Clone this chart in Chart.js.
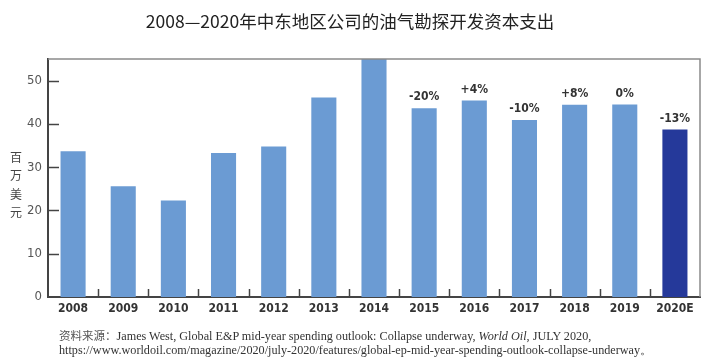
<!DOCTYPE html>
<html>
<head>
<meta charset="utf-8">
<script src="https://cdn.jsdelivr.net/npm/chart.js@4.4.0/dist/chart.umd.min.js"></script>
<style>
  html, body { margin: 0; padding: 0; background: #fff; }
  #wrap { position: relative; width: 713px; height: 360px; }
  #c { position: absolute; left: 0; top: 0; }
  #src { position: absolute; left: 59px; top: 328px; font-family: "Liberation Serif", "Times New Roman", serif; font-size: 12.2px; line-height: 14px; color: #333; white-space: nowrap; }
  #src .cn { font-family: "Noto Sans CJK SC", serif; font-size: 11.5px; color: #555; }
</style>
</head>
<body>
<div id="wrap">
  <canvas id="c" width="713" height="360"></canvas>
  <div id="src"><span class="cn">资料来源：</span>James West, Global E&amp;P mid-year spending outlook: Collapse underway, <i>World Oil</i>, JULY 2020,<br>https://www.worldoil.com/magazine/2020/july-2020/features/global-ep-mid-year-spending-outlook-collapse-underway。</div>
</div>
<script>
const titleText = "2008—2020年中东地区公司的油气勘探开发资本支出";
const yAxisTitle = "百万美元";
const years = ["2008","2009","2010","2011","2012","2013","2014","2015","2016","2017","2018","2019","2020E"];
const spending = [33.7, 25.6, 22.3, 33.3, 34.8, 46.1, 55, 43.6, 45.4, 40.9, 44.4, 44.5, 38.7];
const changeLabels = ["", "", "", "", "", "", "", "-20%", "+4%", "-10%", "+8%", "0%", "-13%"];
const yTicks = [0, 10, 20, 30, 40, 50];

const lightBlue = "#6b9bd3";
const darkBlue = "#25399a";
const condFont = '"DejaVu Sans Condensed", "DejaVu Sans", sans-serif';

const condense = {
  id: "condense",
  beforeDraw(chart) { try { chart.ctx.fontStretch = "condensed"; } catch (e) {} }
};

const decor = {
  id: "decor",
  afterDraw(chart) {
    const ctx = chart.ctx;
    const a = chart.chartArea;
    const xs = chart.scales.x, ys = chart.scales.y;
    ctx.save();
    try { ctx.fontStretch = "condensed"; } catch (e) {}
    // top & right frame
    ctx.strokeStyle = "#8a8a8a";
    ctx.lineWidth = 1.5;
    ctx.beginPath();
    ctx.moveTo(a.left, a.top);
    ctx.lineTo(a.right, a.top);
    ctx.lineTo(a.right, a.bottom);
    ctx.stroke();
    // y ticks (inside)
    ctx.strokeStyle = "#444";
    ctx.lineWidth = 1.5;
    yTicks.forEach(v => {
      if (v === 0) return;
      const y = Math.round(ys.getPixelForValue(v)) + 0.5;
      ctx.beginPath();
      ctx.moveTo(a.left, y);
      ctx.lineTo(a.left + 11, y);
      ctx.stroke();
    });
    // x ticks between categories (inside)
    for (let i = 1; i < years.length; i++) {
      const x = Math.round((xs.getPixelForValue(i - 1) + xs.getPixelForValue(i)) / 2) + 0.5;
      ctx.beginPath();
      ctx.moveTo(x, a.bottom);
      ctx.lineTo(x, a.bottom - 8);
      ctx.stroke();
    }
    // change labels above bars
    ctx.fillStyle = "#333";
    ctx.font = "bold 12px " + condFont;
    ctx.textAlign = "center";
    ctx.textBaseline = "bottom";
    const meta = chart.getDatasetMeta(0);
    changeLabels.forEach((t, i) => {
      if (!t) return;
      const bar = meta.data[i];
      ctx.fillText(t, bar.x, bar.y - 5);
    });
    // vertical y-axis title
    ctx.fillStyle = "#444";
    ctx.font = '12px "Noto Sans CJK SC", serif';
    ctx.textBaseline = "middle";
    Array.from(yAxisTitle).forEach((ch, i) => {
      ctx.fillText(ch, 16, 157 + i * 18.5);
    });
    ctx.restore();
  }
};

new Chart(document.getElementById("c"), {
  type: "bar",
  data: {
    labels: years,
    datasets: [{
      data: spending,
      backgroundColor: spending.map((v, i) => i === years.length - 1 ? darkBlue : lightBlue),
      barPercentage: 0.5,
      categoryPercentage: 1.0,
      borderWidth: 0
    }]
  },
  options: {
    responsive: false,
    animation: false,
    devicePixelRatio: 1,
    layout: { padding: { left: 0, right: 13, top: 0, bottom: 38 } },
    plugins: {
      legend: { display: false },
      tooltip: { enabled: false },
      title: {
        display: true,
        text: titleText,
        color: "#222",
        font: { family: '"Noto Sans CJK SC", sans-serif', size: 17.5, weight: "normal" },
        padding: { top: 11, bottom: 27 }
      }
    },
    scales: {
      x: {
        offset: true,
        grid: { display: false, drawTicks: false },
        border: { display: true, color: "#444", width: 2 },
        ticks: {
          color: "#333",
          font: { family: condFont, size: 12, weight: "bold" },
          padding: 5,
          maxRotation: 0,
          autoSkip: false
        },
        afterFit(s) { s.height = 25; }
      },
      y: {
        min: 0,
        max: 55,
        grid: { display: false, drawTicks: false },
        border: { display: true, color: "#444", width: 2 },
        ticks: {
          stepSize: 10,
          color: "#555",
          font: { family: condFont, size: 13 },
          padding: 6
        },
        afterBuildTicks(s) { s.ticks = yTicks.map(v => ({ value: v })); },
        afterFit(s) { s.width = 48; }
      }
    }
  },
  plugins: [condense, decor]
});
</script>
</body>
</html>
